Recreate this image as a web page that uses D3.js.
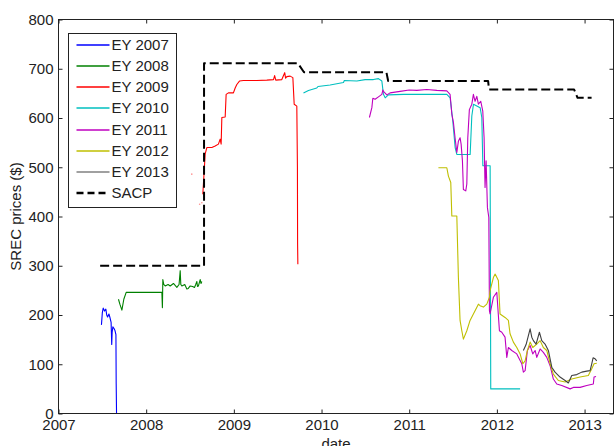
<!DOCTYPE html>
<html lang="en">
<head>
<meta charset="UTF-8">
<title>SREC prices</title>
<script src="https://d3js.org/d3.v7.min.js"></script>
<style>
    body { margin: 0; background: #fff; }
    svg { display: block; font-family: "Liberation Sans", Arial, sans-serif; }
    .line { fill: none; stroke-width: 1.1px; stroke-linejoin: round; }
    .axis text { font-size: 15px; fill: #222; }
    .axis line { stroke: #222; }
</style>
</head>
<body>
<script>
    // series values: [decimal year, price $]
    var ey2007 = [[2007.49,180],[2007.50,205],[2007.51,214],[2007.525,208],[2007.54,212],[2007.55,200],[2007.56,196],
        [2007.575,202],[2007.585,196],[2007.60,185],[2007.607,140],[2007.612,165],[2007.62,176],[2007.635,172],
        [2007.645,168],[2007.655,160],[2007.658,60],[2007.662,0]];

    var ey2008 = [[2007.684,232],[2007.70,222],[2007.723,210],[2007.745,232],[2007.772,246],[2008.10,246],[2008.179,246],
        [2008.185,215],[2008.19,272],[2008.20,262],[2008.217,259],[2008.25,262],[2008.274,259],[2008.311,264],
        [2008.35,256],[2008.375,262],[2008.388,290],[2008.395,262],[2008.407,259],[2008.44,262],[2008.464,253],
        [2008.48,254],[2008.502,259],[2008.53,258],[2008.551,256],[2008.565,262],[2008.578,268],[2008.585,258],
        [2008.596,259],[2008.616,272],[2008.625,264],[2008.635,268]];

    var ey2009 = [[2008.646,445],[2008.653,466],[2008.673,527],[2008.692,540],[2008.749,540],[2008.787,543],
        [2008.824,547],[2008.844,557],[2008.855,547],[2008.863,601],[2008.901,602],[2008.912,648],[2008.938,651],
        [2008.995,651],[2009.015,661],[2009.034,668],[2009.064,675],[2009.109,676],[2009.262,676],[2009.376,677],
        [2009.452,678],[2009.465,686],[2009.478,677],[2009.547,678],[2009.58,692],[2009.59,681],[2009.604,684],
        [2009.642,685],[2009.673,682],[2009.688,628],[2009.718,624],[2009.725,500],[2009.727,344],[2009.73,303]];
    var ey2009Sparse = [[2008.52,486],[2008.61,425],[2008.635,428]];

    var ey2010 = [[2009.794,651],[2009.851,656],[2009.946,661],[2009.96,664],[2010.098,667],[2010.25,672],[2010.26,676],
        [2010.403,675],[2010.497,678],[2010.592,678],[2010.649,680],[2010.688,675],[2010.706,648],[2010.726,641],
        [2010.763,647],[2010.934,648],[2011.429,648],[2011.467,641],[2011.497,594],[2011.524,540],[2011.543,526],
        [2011.695,526],[2011.714,604],[2011.733,628],[2011.809,621],[2011.828,601],[2011.84,503],[2011.923,503],
        [2011.93,50],[2012.265,50]];

    var ey2011 = [[2010.546,601],[2010.574,621],[2010.585,640],[2010.611,638],[2010.649,643],[2010.688,648],
        [2010.700,657],[2010.706,654],[2010.745,647],[2010.782,651],[2010.896,654],[2011.00,657],[2011.087,656],
        [2011.20,658],[2011.315,656],[2011.429,655],[2011.466,648],[2011.486,608],[2011.504,591],[2011.523,560],
        [2011.543,530],[2011.561,553],[2011.580,560],[2011.592,547],[2011.607,513],[2011.618,455],[2011.645,452],
        [2011.657,466],[2011.668,560],[2011.686,617],[2011.714,628],[2011.732,648],[2011.751,634],[2011.771,644],
        [2011.789,628],[2011.816,634],[2011.839,614],[2011.854,560],[2011.865,459],[2011.877,513],[2011.892,418],
        [2011.908,398],[2011.915,209],[2011.922,202],[2011.960,236],[2011.999,246],[2012.029,168],[2012.056,165],
        [2012.093,155],[2012.113,114],[2012.131,134],[2012.170,128],[2012.227,121],[2012.284,101],[2012.302,84],
        [2012.322,87],[2012.348,128],[2012.379,138],[2012.409,121],[2012.436,128],[2012.455,114],[2012.493,131],
        [2012.530,124],[2012.569,114],[2012.607,97],[2012.644,70],[2012.683,60],[2012.740,57],[2012.835,50],
        [2012.872,53],[2012.949,53],[2013.025,57],[2013.100,60],[2013.108,74],[2013.131,75]];

    var ey2012 = [[2011.333,499],[2011.429,499],[2011.447,482],[2011.474,469],[2011.486,401],[2011.543,401],
        [2011.561,276],[2011.580,189],[2011.600,168],[2011.618,151],[2011.657,168],[2011.694,189],[2011.732,202],
        [2011.789,222],[2011.808,219],[2011.846,216],[2011.885,222],[2011.915,236],[2011.922,249],[2011.960,276],
        [2011.98,283],[2012.017,270],[2012.036,202],[2012.093,195],[2012.131,189],[2012.150,162],[2012.188,145],
        [2012.227,134],[2012.265,121],[2012.296,101],[2012.322,107],[2012.348,128],[2012.379,145],[2012.409,134],
        [2012.455,141],[2012.493,148],[2012.530,134],[2012.569,128],[2012.607,101],[2012.644,80],[2012.701,67],
        [2012.778,64],[2012.854,70],[2012.949,74],[2013.043,77],[2013.082,91],[2013.108,101],[2013.139,102]];

    var ey2013 = [[2012.302,128],[2012.333,140],[2012.379,172],[2012.398,155],[2012.416,148],[2012.447,141],
        [2012.485,165],[2012.512,148],[2012.549,141],[2012.587,128],[2012.626,94],[2012.663,84],[2012.720,74],
        [2012.778,67],[2012.815,62],[2012.854,77],[2012.911,79],[2012.968,84],[2013.025,86],[2013.063,87],
        [2013.082,101],[2013.097,113],[2013.120,111],[2013.139,107]];

    var sacp = [[2007.475,300],[2008.66,300],[2008.66,711],[2009.73,711],[2009.80,693],[2010.74,693],[2010.76,675],
        [2011.90,675],[2011.91,658],[2012.88,658],[2012.92,641],[2013.08,641]];

    var seriesNames = ["EY 2007", "EY 2008", "EY 2009", "EY 2010", "EY 2011", "EY 2012", "EY 2013", "SACP"];
    var seriesColors = ["#0000ff", "#008000", "#ff0000", "#00bfbf", "#bf00bf", "#bfbf00", "#404040", "#000000"];
    var seriesData = [ey2007, ey2008, ey2009, ey2010, ey2011, ey2012, ey2013, sacp];

    var yearTicks = [2007, 2008, 2009, 2010, 2011, 2012, 2013];
    var priceTicks = [0, 100, 200, 300, 400, 500, 600, 700, 800];

    // Set up SVG dimensions
    var W = 614, H = 446;
    var plotLeft = 58.5, plotRight = 613.5, plotTop = 19.5, plotBottom = 413.5;

    var svg = d3.select("body").append("svg")
        .attr("width", W)
        .attr("height", H);

    // Set up scales
    var x = d3.scaleLinear().domain([2007, 2013.33]).range([plotLeft, plotRight]);
    var y = d3.scaleLinear().domain([0, 800]).range([plotBottom, plotTop]);

    var line = d3.line()
        .x(function (d) { return x(d[0]); })
        .y(function (d) { return y(d[1]); });

    // Draw the series
    seriesData.forEach(function (data, i) {
        var path = svg.append("path")
            .datum(data)
            .attr("class", "line")
            .style("stroke", seriesColors[i])
            .attr("d", line);
        if (seriesNames[i] == "SACP") {
            path.style("stroke-width", "2px").style("stroke-dasharray", "9,4");
        }
    });

    svg.selectAll(".sparse")
        .data(ey2009Sparse)
        .enter().append("circle")
        .attr("class", "sparse")
        .attr("cx", d => x(d[0]))
        .attr("cy", d => y(d[1]))
        .attr("r", 0.8)
        .style("fill", "#ff0000")
        .style("opacity", 0.45);

    // Box
    svg.append("rect")
        .attr("x", plotLeft).attr("y", plotTop)
        .attr("width", plotRight - plotLeft).attr("height", plotBottom - plotTop)
        .style("fill", "none").style("stroke", "#222").style("stroke-width", 1);

    // Axes, MATLAB style ticks pointing inwards
    svg.append("g")
        .attr("class", "axis")
        .attr("transform", "translate(0," + plotBottom + ")")
        .call(d3.axisBottom(x).tickValues(yearTicks).tickFormat(d3.format("d")).tickSize(-4).tickPadding(6));
    svg.append("g")
        .attr("class", "axis")
        .attr("transform", "translate(0," + plotTop + ")")
        .call(d3.axisTop(x).tickValues(yearTicks).tickFormat("").tickSize(-4));
    svg.append("g")
        .attr("class", "axis")
        .attr("transform", "translate(" + plotLeft + ",0)")
        .call(d3.axisLeft(y).tickValues(priceTicks).tickSize(-4).tickPadding(5));
    svg.append("g")
        .attr("class", "axis")
        .attr("transform", "translate(" + plotRight + ",0)")
        .call(d3.axisRight(y).tickValues(priceTicks).tickFormat("").tickSize(-4));
    svg.selectAll(".axis .domain").remove();

    // Axis labels
    svg.append("text")
        .attr("x", (plotLeft + plotRight) / 2)
        .attr("y", 449)
        .attr("text-anchor", "middle")
        .style("font-size", "15px").style("fill", "#222")
        .text("date");
    svg.append("text")
        .attr("transform", "translate(21," + ((plotTop + plotBottom) / 2) + ") rotate(-90)")
        .attr("text-anchor", "middle")
        .style("font-size", "15px").style("fill", "#222")
        .text("SREC prices ($)");

    // Legend
    var legend = svg.append("g").attr("transform", "translate(68.5,33.5)");
    legend.append("rect")
        .attr("width", 108).attr("height", 174)
        .style("fill", "#fff").style("stroke", "#222").style("stroke-width", 1);
    var rowH = 21.15;
    seriesNames.forEach(function (name, i) {
        var cy = Math.round(12 + i * rowH) - 0.5;
        legend.append("line")
            .attr("x1", 8).attr("x2", 41)
            .attr("y1", cy).attr("y2", cy)
            .style("stroke", seriesColors[i] == "#404040" ? "#808080" : seriesColors[i])
            .style("stroke-width", name == "SACP" ? 2.5 : 1.6)
            .style("stroke-dasharray", name == "SACP" ? "7,4" : null);
        legend.append("text")
            .attr("x", 43).attr("y", cy)
            .attr("dy", "0.36em")
            .style("font-size", "15px").style("fill", "#222")
            .text(name);
    });
</script>
</body>
</html>
